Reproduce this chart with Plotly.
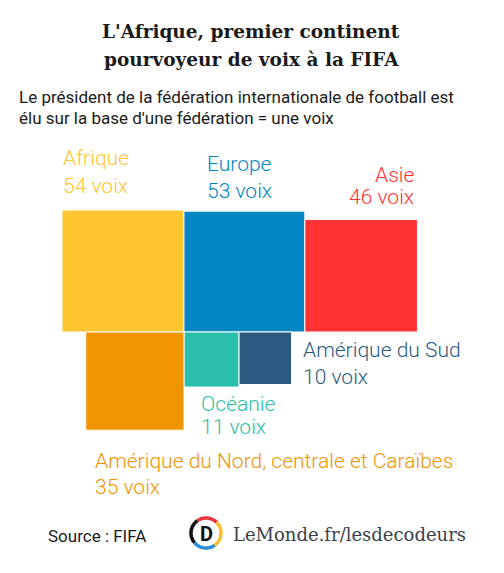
import math
import plotly.graph_objects as go

# ---- data ----
regions = ["Afrique", "Europe", "Asie", "Amérique du Nord, centrale et Caraïbes", "Océanie", "Amérique du Sud"]
votes = [54, 53, 46, 35, 11, 10]
colors = ["#FEC530", "#0587C3", "#FF3333", "#F29400", "#29BFAA", "#2A5A80"]
top_row = [0, 1, 2]
bottom_row = [4, 5]          # to the right of the anchor line
left_bottom = [3]            # aligned to the right edge of Afrique

W, H = 504, 573
K = 16.6                      # pixels per sqrt(vote)
X0, YMID = 62, 332

fig = go.Figure()
shapes = []

side = [K * math.sqrt(v) for v in votes]
boxes = {}
x = X0
for i in top_row:
    boxes[i] = (x, YMID - side[i], x + side[i], YMID)
    x += side[i]
anchor = boxes[0][2]
x = anchor
for i in bottom_row:
    boxes[i] = (x, YMID, x + side[i], YMID + side[i])
    x += side[i]
for i in left_bottom:
    boxes[i] = (anchor - side[i], YMID, anchor, YMID + side[i])

for i, (x0, y0, x1, y1) in boxes.items():
    shapes.append(dict(type="rect", xref="x", yref="y", x0=x0, y0=y0, x1=x1, y1=y1,
                       fillcolor=colors[i], line=dict(width=1, color="white"), layer="above"))

ann = []
def txt(s, x, y, size, color, xanchor="left", family="Roboto", bold=False, weight=None):
    f = dict(family=family, size=size, color=color)
    if weight is not None:
        f["weight"] = weight
    ann.append(dict(text=("<b>%s</b>" % s) if bold else s, x=x, y=y, xref="x", yref="y",
                    xanchor=xanchor, yanchor="middle", showarrow=False, font=f))

# title + subtitle
txt("L'Afrique, premier continent", 251, 31, 18.5, "#1a1a1a", "center", "DejaVu Serif", True)
txt("pourvoyeur de voix à la FIFA", 251, 59, 18.5, "#1a1a1a", "center", "DejaVu Serif", True)
txt("Le président de la fédération internationale de football est", 17, 97, 17, "#1a1a1a")
txt("élu sur la base d'une fédération = une voix", 17, 118, 17, "#1a1a1a")

# labels
LS = 21
def lab(i, name_xy, vote_xy, xanchor="left", size=LS):
    txt(regions[i], name_xy[0], name_xy[1], size, colors[i], xanchor, weight=300)
    txt("%d voix" % votes[i], vote_xy[0], vote_xy[1], size, colors[i], xanchor, weight=300)

lab(0, (61, 158), (61, 186))
lab(1, (205, 164), (205, 191))
lab(2, (416, 175), (416, 197), "right")
lab(5, (301, 350), (301, 377))
lab(4, (199, 404), (199, 427))
lab(3, (93, 461), (93, 487))

# footer
txt("Source : FIFA", 46, 536, 17, "#1a1a1a")
cx, cy, r = 206, 533, 15
arcs = [(45, 125, "#E8383D"), (-55, 45, "#F6C02E"), (-140, -55, "#2D8FD5"), (125, 220, "#111111")]
for a0, a1, col in arcs:
    pts = []
    n = 24
    for k in range(n + 1):
        a = math.radians(a0 + (a1 - a0) * k / n)
        pts.append((cx + r * math.cos(a), cy - r * math.sin(a)))
    path = "M " + " L ".join("%.2f,%.2f" % p for p in pts)
    shapes.append(dict(type="path", xref="x", yref="y", path=path,
                       line=dict(color=col, width=3.5), layer="above"))
txt("D", cx, cy + 1, 20, "#111111", "center", "Roboto", True)
txt("LeMonde.fr/lesdecodeurs", 231, 534, 18, "#3a3f4a", "left", "DejaVu Serif")

fig.update_layout(
    width=W, height=H, margin=dict(l=0, r=0, t=0, b=0),
    paper_bgcolor="white", plot_bgcolor="white",
    xaxis=dict(range=[0, W], visible=False, fixedrange=True),
    yaxis=dict(range=[H, 0], visible=False, fixedrange=True),
    shapes=shapes, annotations=ann, showlegend=False,
)
fig.write_html("out.html")
